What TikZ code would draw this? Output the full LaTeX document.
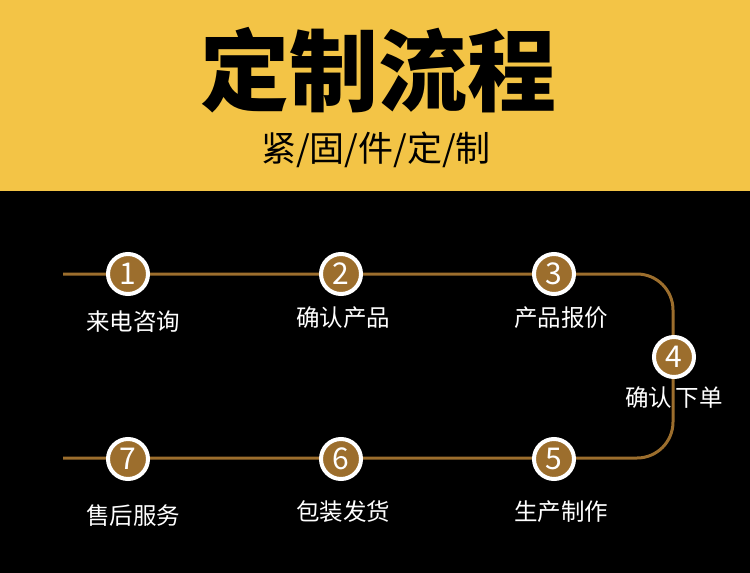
\documentclass[tikz,border=0pt]{standalone}
\usepackage{fontspec}
\newfontfamily\cjk{Noto Sans CJK SC}
\definecolor{hdr}{HTML}{F3C446}
\definecolor{brn}{HTML}{9C6E2D}
\tikzset{
  flow/.style={draw=brn,line width=3pt},
  stepdot/.style={circle,fill=brn,draw=white,line width=4pt,minimum size=40pt,inner sep=0pt,text=white,font=\cjk\fontsize{30}{30}\selectfont},
  steplabel/.style={text=white,font=\cjk\fontsize{23.5}{23.5}\selectfont,inner sep=0pt},
}
\begin{document}
\begin{tikzpicture}[x=1pt,y=-1pt]
\useasboundingbox (0,0) rectangle (750,573);
\fill[black] (0,0) rectangle (750,573);
\fill[hdr] (0,0) rectangle (750,191);
\node[font=\cjk\bfseries\fontsize{89}{89}\selectfont,text=black,inner sep=0pt] (title) at (378,70) {定制流程};
\node[font=\cjk\fontsize{35}{35}\selectfont,text=black,inner sep=0pt] (sub) at (376,150) {紧/固/件/定/制};
\coordinate (ls) at (63,274);
\coordinate (le) at (63,458);
\draw[flow,rounded corners=36pt] (ls) -- (673,274) -- (673,458) -- (le);
\node[stepdot] (s1) at (128,274) {1};
\node[stepdot] (s2) at (341,274) {2};
\node[stepdot] (s3) at (554,274) {3};
\node[stepdot] (s4) at (674,357) {4};
\node[stepdot] (s5) at (554,459) {5};
\node[stepdot] (s6) at (341,459) {6};
\node[stepdot] (s7) at (128,459) {7};
\node[steplabel] (t1) at (133,322) {来电咨询};
\node[steplabel] (t2) at (343,318) {确认产品};
\node[steplabel] (t3) at (561,318) {产品报价};
\node[steplabel] (t4) at (674,398) {确认\,下单};
\node[steplabel] (t5) at (561,512) {生产制作};
\node[steplabel] (t6) at (343,512) {包装发货};
\node[steplabel] (t7) at (133,516) {售后服务};
\end{tikzpicture}
\end{document}
